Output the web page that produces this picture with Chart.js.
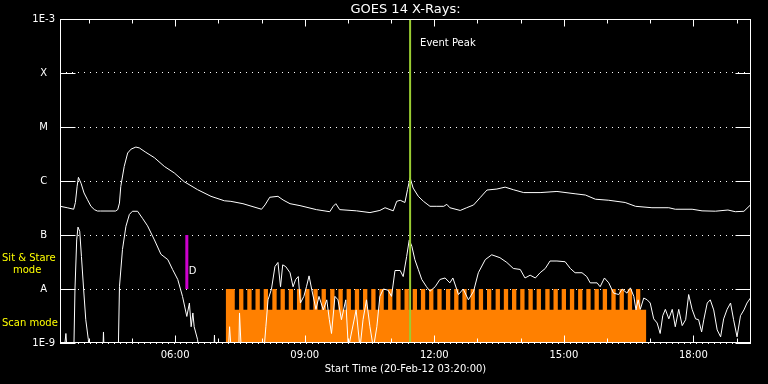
<!DOCTYPE html>
<html>
<head>
<meta charset="utf-8">
<title>GOES 14 X-Rays</title>
<script src="https://cdn.jsdelivr.net/npm/chart.js@4.4.1/dist/chart.umd.min.js"></script>
<style>
  html, body { margin: 0; padding: 0; background: #000; }
  #grafico { display: block; }
</style>
</head>
<body>
<canvas id="grafico" width="768" height="384"></canvas>
<script>
// Eje de tiempo en horas decimales del 20-Feb-12
const tInicio = 3 + 20 / 60;
const tFin = 19 + 20 / 60;
const horasEtiqueta = [6, 9, 12, 15, 18];

// Décadas del eje Y y sus etiquetas de clase GOES
const decadas = [1e-9, 1e-8, 1e-7, 1e-6, 1e-5, 1e-4, 1e-3];
const etiquetasY = ['1E-9', 'A', 'B', 'C', 'M', 'X', '1E-3'];

// Canal largo (1-8 A): [hora, flujo W/m2]
const canalLargo = [
    [3.34, 3.4e-7], [3.50, 3.2e-7], [3.65, 3.0e-7], [3.69, 4.0e-7], [3.73, 8.0e-7], [3.76, 1.17e-6],
    [3.82, 9.1e-7], [3.89, 6.0e-7], [3.97, 4.5e-7], [4.05, 3.4e-7], [4.13, 2.95e-7], [4.20, 2.78e-7],
    [4.27, 2.78e-7], [4.62, 2.78e-7], [4.67, 2.95e-7], [4.71, 3.9e-7], [4.74, 7.9e-7], [4.82, 1.86e-6],
    [4.90, 3.3e-6], [4.98, 3.9e-6], [5.09, 4.25e-6], [5.17, 4.1e-6], [5.32, 3.4e-6], [5.52, 2.7e-6],
    [5.75, 1.86e-6], [5.98, 1.41e-6], [6.21, 9.7e-7], [6.52, 6.9e-7], [6.83, 5.2e-7], [7.14, 4.3e-7],
    [7.29, 4.2e-7], [7.57, 3.8e-7], [8.00, 3.0e-7], [8.08, 3.6e-7], [8.19, 5.0e-7], [8.38, 5.2e-7],
    [8.50, 4.45e-7], [8.66, 3.8e-7], [8.89, 3.5e-7], [9.27, 2.95e-7], [9.58, 2.7e-7], [9.66, 3.4e-7],
    [9.72, 3.8e-7], [9.81, 2.95e-7], [10.20, 2.8e-7], [10.51, 2.6e-7], [10.74, 2.85e-7], [10.86, 3.2e-7],
    [11.05, 2.8e-7], [11.13, 4.2e-7], [11.21, 4.4e-7], [11.32, 4.0e-7], [11.38, 6.9e-7], [11.44, 1.15e-6],
    [11.51, 7.4e-7], [11.63, 5.2e-7], [11.75, 4.2e-7], [11.90, 3.4e-7], [12.06, 3.4e-7], [12.22, 3.4e-7],
    [12.29, 3.7e-7], [12.36, 3.2e-7], [12.60, 2.85e-7], [12.75, 3.2e-7], [12.91, 3.6e-7], [13.06, 4.9e-7],
    [13.22, 6.8e-7], [13.45, 7.1e-7], [13.64, 7.7e-7], [13.83, 6.9e-7], [14.07, 6.1e-7], [14.45, 6.1e-7],
    [14.84, 6.4e-7], [15.26, 5.8e-7], [15.50, 5.5e-7], [15.73, 4.6e-7], [16.04, 4.4e-7], [16.42, 4.0e-7],
    [16.66, 3.4e-7], [17.04, 3.2e-7], [17.43, 3.2e-7], [17.58, 3.0e-7], [17.97, 3.0e-7], [18.20, 2.8e-7],
    [18.51, 2.76e-7], [18.80, 2.9e-7], [18.97, 2.7e-7], [19.17, 2.75e-7], [19.32, 3.6e-7]
];

// Canal corto (0.5-4 A): [hora, flujo W/m2]
const canalCorto = [
    [3.33, 5e-10], [3.41, 5e-10], [3.47, 1.5e-9], [3.51, 5e-10], [3.65, 5e-10], [3.68, 1e-8],
    [3.72, 8.1e-8], [3.75, 1.4e-7], [3.79, 1.17e-7], [3.83, 4e-8], [3.88, 1e-8], [3.93, 2.7e-9],
    [3.99, 1.15e-9], [4.02, 5e-10], [4.32, 5e-10], [4.34, 1.6e-9], [4.36, 5e-10], [4.68, 5e-10],
    [4.71, 1.1e-8], [4.78, 5.4e-8], [4.86, 1.45e-7], [4.94, 2.4e-7], [5.01, 2.75e-7], [5.13, 2.75e-7],
    [5.25, 2.0e-7], [5.36, 1.48e-7], [5.52, 8.1e-8], [5.67, 4.4e-8], [5.83, 3.5e-8], [5.94, 2.3e-8],
    [6.06, 1.5e-8], [6.17, 7.3e-9], [6.27, 3.1e-9], [6.33, 5.5e-9], [6.37, 2e-9], [6.41, 3.6e-9],
    [6.44, 2e-9], [6.52, 1.15e-9], [6.57, 5e-10], [6.89, 5e-10], [6.91, 1.4e-9], [6.93, 5e-10],
    [7.22, 5e-10], [7.26, 2e-9], [7.31, 5e-10], [7.47, 5e-10], [7.49, 3.6e-9], [7.54, 5e-10],
    [8.04, 5e-10], [8.10, 2e-9], [8.15, 6.3e-9], [8.23, 1e-8], [8.31, 2.6e-8], [8.38, 3.1e-8],
    [8.44, 1.1e-8], [8.49, 2.8e-8], [8.56, 2.6e-8], [8.66, 2e-8], [8.73, 1.1e-8], [8.79, 1.5e-8],
    [8.85, 1.7e-8], [8.90, 5.5e-9], [8.98, 7.3e-9], [9.04, 1.1e-8], [9.10, 1.75e-8], [9.16, 1e-8],
    [9.26, 4.2e-9], [9.33, 7.3e-9], [9.43, 4.1e-9], [9.51, 6.3e-9], [9.57, 2.7e-9], [9.62, 1.5e-9],
    [9.70, 7.3e-9], [9.77, 6.3e-9], [9.85, 2.7e-9], [9.95, 6.3e-9], [10.01, 8e-10], [10.19, 4.1e-9],
    [10.28, 8e-10], [10.35, 2.7e-9], [10.43, 6.3e-9], [10.51, 2e-9], [10.59, 8e-10], [10.67, 2e-9],
    [10.74, 7.3e-9], [10.82, 1e-8], [10.93, 9.5e-9], [11.01, 7.3e-9], [11.09, 2.2e-8], [11.21, 2.2e-8],
    [11.28, 1.7e-8], [11.36, 4e-8], [11.42, 8.1e-8], [11.48, 6.2e-8], [11.55, 3.5e-8], [11.63, 2.3e-8],
    [11.71, 1.5e-8], [11.82, 1.1e-8], [11.90, 9.1e-9], [12.02, 1.1e-8], [12.13, 1.5e-8], [12.25, 1.6e-8],
    [12.36, 1.3e-8], [12.43, 1.6e-8], [12.56, 7.9e-9], [12.67, 1e-8], [12.79, 6.3e-9], [12.91, 9.1e-9],
    [13.02, 2e-8], [13.18, 3.5e-8], [13.33, 4.3e-8], [13.52, 3.8e-8], [13.68, 3.1e-8], [13.83, 2.4e-8],
    [13.99, 2.3e-8], [14.10, 1.6e-8], [14.22, 1.8e-8], [14.34, 1.6e-8], [14.45, 2e-8], [14.57, 2.4e-8],
    [14.68, 3.3e-8], [14.84, 3.3e-8], [15.03, 3.2e-8], [15.15, 2.4e-8], [15.26, 2e-8], [15.42, 2e-8],
    [15.53, 1.7e-8], [15.61, 1.3e-8], [15.77, 1.3e-8], [15.84, 1.1e-8], [15.94, 1.6e-8], [16.04, 1.3e-8],
    [16.15, 8.4e-9], [16.27, 7.9e-9], [16.35, 1e-8], [16.46, 8.4e-9], [16.54, 1.05e-8], [16.62, 7.3e-9],
    [16.67, 4.1e-9], [16.72, 6.3e-9], [16.77, 4.2e-9], [16.85, 6.8e-9], [16.93, 6.3e-9], [17.00, 5.5e-9],
    [17.08, 2.8e-9], [17.16, 2.35e-9], [17.23, 1.5e-9], [17.29, 3.2e-9], [17.35, 4.2e-9], [17.43, 2.8e-9],
    [17.51, 4.2e-9], [17.58, 2e-9], [17.66, 4.2e-9], [17.74, 2.1e-9], [17.82, 2.7e-9], [17.89, 7.9e-9],
    [17.97, 4.2e-9], [18.05, 2.8e-9], [18.12, 2.7e-9], [18.19, 1.6e-9], [18.24, 2.7e-9], [18.32, 5.5e-9],
    [18.39, 6.3e-9], [18.47, 4.1e-9], [18.55, 1.75e-9], [18.63, 1.3e-9], [18.70, 2.8e-9], [18.78, 4.2e-9],
    [18.86, 5.5e-9], [18.93, 2.7e-9], [19.01, 1.3e-9], [19.09, 3.2e-9], [19.17, 4.1e-9], [19.24, 5.5e-9],
    [19.32, 6.8e-9]
];

// Ventanas "Sit & Stare" dentro del modo scan: [inicio, fin] en horas
const ventanasSitStare = [
    [7.17, 7.38], [7.48, 7.58], [7.67, 7.77], [7.86, 7.96], [8.05, 8.15], [8.25, 8.35], [8.44, 8.54],
    [8.63, 8.73], [8.82, 8.92], [9.01, 9.11], [9.20, 9.30], [9.39, 9.49], [9.59, 9.69], [9.78, 9.88],
    [9.97, 10.07], [10.16, 10.26], [10.35, 10.45], [10.54, 10.64], [10.73, 10.83], [10.93, 11.03],
    [11.12, 11.22], [11.31, 11.41], [11.50, 11.60], [11.69, 11.79], [11.88, 11.98], [12.07, 12.17],
    [12.27, 12.37], [12.46, 12.56], [12.65, 12.75], [12.84, 12.94], [13.03, 13.13], [13.22, 13.32],
    [13.42, 13.52], [13.61, 13.71], [13.80, 13.90], [13.99, 14.09], [14.18, 14.28], [14.37, 14.47],
    [14.57, 14.67], [14.76, 14.86], [14.95, 15.05], [15.14, 15.24], [15.33, 15.43], [15.52, 15.62],
    [15.71, 15.81], [15.90, 16.00], [16.10, 16.20], [16.29, 16.39], [16.48, 16.58], [16.67, 16.77]
];
const finScan = 16.91;
const nivelSitStare = 1e-8;
const nivelScan = 4.15e-9;

// Marcas de eventos
const horaPico = 11.44;
const horaObs = 6.27;

// Construir la serie escalonada del modo de observación
const puntosModo = [];
ventanasSitStare.forEach(([ini, fin]) => {
    puntosModo.push({ x: ini, y: nivelSitStare });
    puntosModo.push({ x: fin, y: nivelScan });
});
puntosModo.push({ x: finScan, y: decadas[0] });

const aPuntos = serie => serie.map(([t, v]) => ({ x: t, y: v }));

// Marcas de ejes, caja y textos sueltos
const marcos = {
    id: 'marcos',
    afterDatasetsDraw(chart) {
        const { ctx, chartArea: a, scales: { x, y } } = chart;
        const l = Math.round(a.left) + 0.5, r = Math.round(a.right) - 0.5;
        const t = Math.round(a.top) + 0.5, b = Math.round(a.bottom) - 0.5;
        ctx.save();
        ctx.strokeStyle = '#fff';
        ctx.lineWidth = 1;
        ctx.strokeRect(l, t, r - l, b - t);
        ctx.beginPath();
        for (let h = 4; h <= 19; h++) {
            const px = Math.round(x.getPixelForValue(h)) + 0.5;
            const largo = h % 3 === 0 ? 7 : 4;
            ctx.moveTo(px, b); ctx.lineTo(px, b - largo);
            ctx.moveTo(px, t); ctx.lineTo(px, t + largo);
        }
        decadas.forEach(v => {
            const py = Math.round(y.getPixelForValue(v)) + 0.5;
            ctx.moveTo(l, py); ctx.lineTo(l + 15, py);
            ctx.moveTo(r - 15, py); ctx.lineTo(r, py);
        });
        ctx.stroke();

        ctx.font = '10px "DejaVu Sans"';
        ctx.textBaseline = 'middle';
        ctx.textAlign = 'left';
        ctx.fillStyle = '#fff';
        ctx.fillText('Event Peak', x.getPixelForValue(horaPico) + 10, a.top + 24);
        ctx.fillText('D', x.getPixelForValue(horaObs) + 2, y.getPixelForValue(nivelSitStare) - 18);

        const yA = y.getPixelForValue(nivelSitStare);
        ctx.fillStyle = '#ffff00';
        ctx.fillText('Sit & Stare', 2, yA - 31);
        ctx.fillText('mode', 13, yA - 19);
        ctx.fillText('Scan mode', 2, yA + 34);
        ctx.restore();
    }
};

Chart.defaults.font.family = '"DejaVu Sans", sans-serif';
Chart.defaults.color = '#fff';

new Chart(document.getElementById('grafico'), {
    type: 'line',
    data: {
        datasets: [
            {
                label: 'Scan mode',
                data: puntosModo,
                stepped: 'before',
                fill: 'start',
                backgroundColor: '#ff8000',
                borderWidth: 0,
                pointRadius: 0,
                order: 4
            },
            {
                label: 'GOES 14 1-8 A',
                data: aPuntos(canalLargo),
                borderColor: '#fff',
                borderWidth: 1,
                pointRadius: 0,
                order: 3
            },
            {
                label: 'GOES 14 0.5-4 A',
                data: aPuntos(canalCorto),
                borderColor: '#fff',
                borderWidth: 1,
                pointRadius: 0,
                order: 2
            },
            {
                label: 'D',
                data: [{ x: horaObs, y: 1e-8 }, { x: horaObs, y: 1e-7 }],
                borderColor: '#cc00cc',
                borderWidth: 3,
                pointRadius: 0,
                order: 1
            },
            {
                label: 'Event Peak',
                data: [{ x: horaPico, y: 1e-9 }, { x: horaPico, y: 1e-3 }],
                borderColor: '#9acd32',
                borderWidth: 2,
                pointRadius: 0,
                order: 0
            }
        ]
    },
    options: {
        responsive: false,
        animation: false,
        layout: { padding: { top: 0, right: 17, left: 0, bottom: 0 } },
        plugins: {
            legend: { display: false },
            tooltip: { enabled: false },
            title: {
                display: true,
                fullSize: false,
                text: 'GOES 14 X-Rays:',
                color: '#fff',
                font: { size: 13, weight: 'normal' },
                padding: { top: 1.5, bottom: 1.9 }
            }
        },
        scales: {
            x: {
                type: 'linear',
                min: tInicio,
                max: tFin,
                afterFit: s => { s.height = 41; },
                afterBuildTicks: s => { s.ticks = horasEtiqueta.map(h => ({ value: h })); },
                ticks: {
                    color: '#fff',
                    font: { size: 10 },
                    padding: 6,
                    maxRotation: 0,
                    autoSkip: false,
                    callback: v => String(v).padStart(2, '0') + ':00'
                },
                grid: { display: false, drawTicks: false },
                border: { display: false },
                title: {
                    display: true,
                    text: 'Start Time (20-Feb-12 03:20:00)',
                    color: '#fff',
                    font: { size: 10 },
                    padding: { top: 0, bottom: 9 }
                }
            },
            y: {
                type: 'logarithmic',
                min: 1e-9,
                max: 1e-3,
                afterFit: s => { s.width = 60; },
                afterBuildTicks: s => { s.ticks = decadas.map(v => ({ value: v })); },
                ticks: {
                    color: '#fff',
                    font: { size: 10 },
                    padding: 5,
                    crossAlign: 'center',
                    autoSkip: false,
                    callback: (v, i) => etiquetasY[i]
                },
                grid: { color: '#fff', lineWidth: 1, drawTicks: false },
                border: { display: false, dash: [1, 5] }
            }
        }
    },
    plugins: [marcos]
});
</script>
</body>
</html>
